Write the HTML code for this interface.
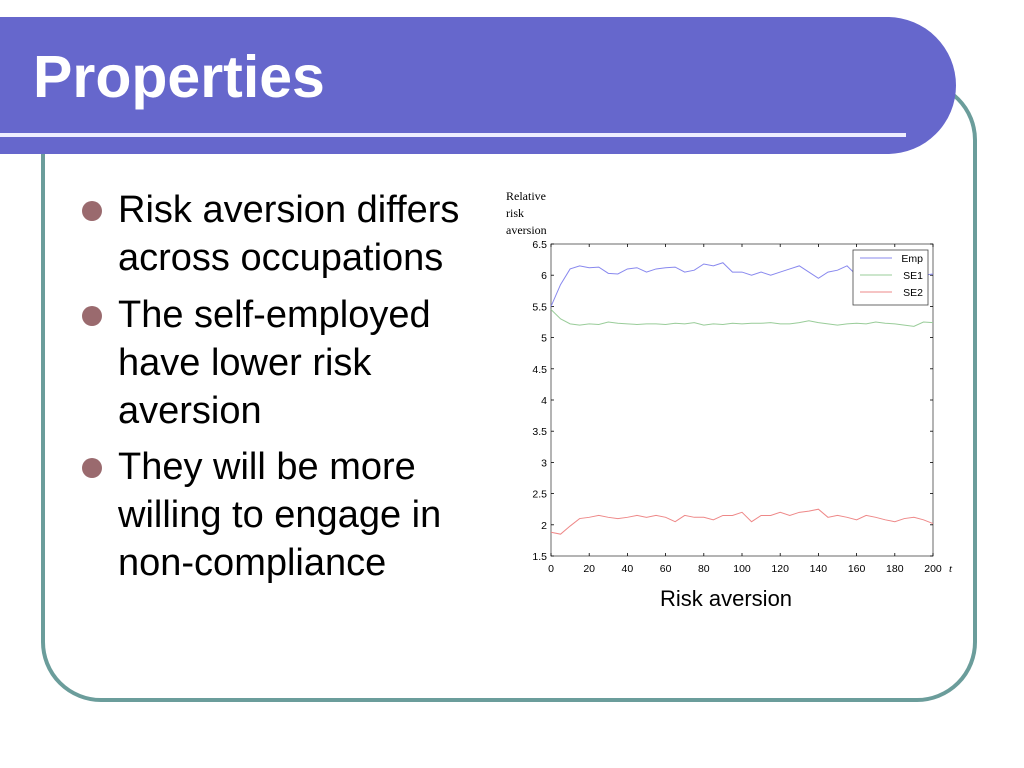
<!DOCTYPE html>
<html><head><meta charset="utf-8"><style>
body{margin:0;width:1024px;height:768px;background:#fff;position:relative;overflow:hidden;font-family:"Liberation Sans",sans-serif}
#frame{position:absolute;left:41px;top:80px;width:936px;height:622px;border:4px solid #6b9d9b;border-radius:0 60px 60px 60px;box-sizing:border-box}
#bar{position:absolute;left:0;top:17px;width:956px;height:137px;background:#6667cc;border-radius:0 75px 75px 0}
#line{position:absolute;left:0;top:133px;width:906px;height:4px;background:#eef}
#title{position:absolute;left:33px;top:43px;font-size:59px;font-weight:bold;color:#fff}
.b{position:absolute;left:118px;font-size:38px;color:#000;line-height:48px}
.dot{position:absolute;left:82px;width:20px;height:20px;border-radius:50%;background:#9a6a6e}
</style></head><body>
<div id="frame"></div>
<div id="bar"></div>
<div id="line"></div>
<div id="title">Properties</div>
<div class="dot" style="top:201px"></div>
<div class="b" style="top:186px">Risk aversion differs<br>across occupations</div>
<div class="dot" style="top:306px"></div>
<div class="b" style="top:291px">The self-employed<br>have lower risk<br>aversion</div>
<div class="dot" style="top:458px"></div>
<div class="b" style="top:443px">They will be more<br>willing to engage in<br>non-compliance</div>
<svg id="chart" width="1024" height="768" style="position:absolute;left:0;top:0"></svg>
<div style="position:absolute;left:660px;top:586px;font-size:22px">Risk aversion</div>
<script>
const xTicks=[0,20,40,60,80,100,120,140,160,180,200];
const yTicks=[1.5,2,2.5,3,3.5,4,4.5,5,5.5,6,6.5];
const tValues=[];for(let i=0;i<=40;i++)tValues.push(i*5);
const empValues=[5.5,5.85,6.1,6.15,6.12,6.13,6.03,6.02,6.1,6.12,6.05,6.1,6.12,6.13,6.05,6.08,6.18,6.15,6.2,6.05,6.05,6.0,6.05,6.0,6.05,6.1,6.15,6.05,5.95,6.05,6.08,6.15,6.0,5.98,6.02,6.0,5.98,6.02,5.98,6.0,6.02];
const se1Values=[5.45,5.3,5.22,5.2,5.22,5.21,5.25,5.23,5.22,5.21,5.22,5.22,5.21,5.23,5.22,5.24,5.2,5.22,5.21,5.23,5.22,5.23,5.23,5.24,5.22,5.22,5.24,5.27,5.24,5.22,5.2,5.22,5.23,5.22,5.25,5.23,5.22,5.2,5.18,5.25,5.24];
const se2Values=[1.88,1.85,1.98,2.1,2.12,2.15,2.12,2.1,2.12,2.15,2.12,2.15,2.12,2.05,2.15,2.12,2.12,2.08,2.15,2.15,2.2,2.05,2.15,2.15,2.2,2.15,2.2,2.22,2.25,2.12,2.15,2.12,2.08,2.15,2.12,2.08,2.05,2.1,2.12,2.08,2.02];
const X0=551,X1=933,Y0=556,Y1=244;
const sx=t=>X0+(t-0)/200*(X1-X0);
const sy=v=>Y0-(v-1.5)/5*(Y0-Y1);
const svg=document.getElementById('chart');const NS='http://www.w3.org/2000/svg';
function mk(tag,attrs,name){const e=document.createElementNS(NS,tag);for(const k in attrs)e.setAttribute(k,attrs[k]);


svg.appendChild(e);return e;}
mk('rect',{x:X0,y:Y1,width:X1-X0,height:Y0-Y1,fill:'none',stroke:'#444','stroke-width':0.8},'plot-area');
xTicks.forEach(t=>{const x=sx(t);mk('line',{x1:x,x2:x,y1:Y0,y2:Y0-3,stroke:'#000','stroke-width':0.8},'x-tick');mk('line',{x1:x,x2:x,y1:Y1,y2:Y1+3,stroke:'#000','stroke-width':0.8},'x-tick-top');
const l=mk('text',{x:x,y:Y0+16,'text-anchor':'middle','font-size':10.5,'font-family':'Liberation Sans'},'x-tick-label');l.textContent=t;});
yTicks.forEach(v=>{const y=sy(v);mk('line',{x1:X0,x2:X0+3,y1:y,y2:y,stroke:'#000','stroke-width':0.8},'y-tick');mk('line',{x1:X1,x2:X1-3,y1:y,y2:y,stroke:'#000','stroke-width':0.8},'y-tick-right');
const l=mk('text',{x:X0-4,y:y+4,'text-anchor':'end','font-size':10.5,'font-family':'Liberation Sans'},'y-tick-label');l.textContent=v;});
const series=[[empValues,'#8888ee','emp-line'],[se1Values,'#99cc99','se1-line'],[se2Values,'#ee8888','se2-line']];
series.forEach(([vals,c,n])=>{mk('polyline',{points:vals.map((v,i)=>sx(tValues[i])+','+sy(v)).join(' '),fill:'none',stroke:c,'stroke-width':1},n);});
mk('rect',{x:853,y:250,width:75,height:55,fill:'#fff',stroke:'#444','stroke-width':0.8},'legend-box');
['Emp','SE1','SE2'].forEach((s,i)=>{const y=262+i*17;mk('line',{x1:860,x2:892,y1:y-4,y2:y-4,stroke:series[i][1]},'legend-swatch');
const l=mk('text',{x:923,y:y,'text-anchor':'end','font-size':10.5,'font-family':'Liberation Sans'},'legend-entry');l.textContent=s;});
['Relative','risk','aversion'].forEach((s,i)=>{const l=mk('text',{x:506,y:200+i*17,'font-size':12,'font-family':'Liberation Serif'},'y-axis-title');l.textContent=s;});
const tl=mk('text',{x:949,y:572,'font-size':11,'font-style':'italic','font-family':'Liberation Serif'},'x-axis-title');tl.textContent='t';
</script>
</body></html>
